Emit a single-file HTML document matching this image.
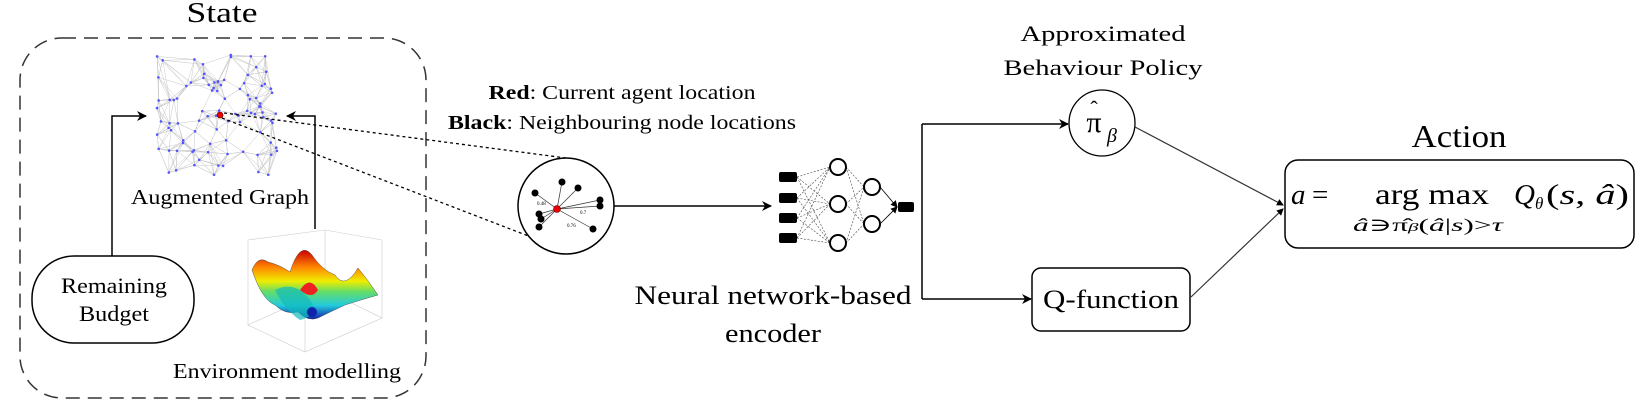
<!DOCTYPE html>
<html><head><meta charset="utf-8"><style>
html,body{margin:0;padding:0;background:#fff;}
svg{display:block;}
text{font-family:"Liberation Serif","DejaVu Serif",serif;}
</style></head><body>
<svg id="s" width="1641" height="400" viewBox="0 0 1641 400" xmlns="http://www.w3.org/2000/svg">
<defs>
<marker id="ah" markerWidth="10" markerHeight="10" refX="9" refY="5" orient="auto" markerUnits="userSpaceOnUse">
<path d="M0,0 L10,5 L0,10 L3,5 z" fill="#000"/></marker>
<marker id="ahs" markerWidth="7" markerHeight="7" refX="6" refY="3.5" orient="auto" markerUnits="userSpaceOnUse">
<path d="M0,0 L7,3.5 L0,7 z" fill="#000"/></marker>
<linearGradient id="surf" x1="0" y1="0" x2="0" y2="1">
<stop offset="0" stop-color="#c00"/><stop offset="0.25" stop-color="#f80"/><stop offset="0.45" stop-color="#ee0"/><stop offset="0.6" stop-color="#6d6"/><stop offset="0.8" stop-color="#2cd"/><stop offset="1" stop-color="#12a"/></linearGradient>
</defs>

<text x="222" y="22" font-size="28" text-anchor="middle" textLength="71" lengthAdjust="spacingAndGlyphs">State</text>
<rect x="20" y="38" width="406" height="360" rx="42" fill="none" stroke="#333" stroke-width="1.5" stroke-dasharray="14,8"/>
<g id="graph"></g>
<text x="220" y="204" font-size="21" text-anchor="middle" textLength="178" lengthAdjust="spacingAndGlyphs">Augmented Graph</text>

<rect x="32" y="256" width="162" height="87" rx="42" fill="none" stroke="#000" stroke-width="1.5"/>
<text x="114" y="293" font-size="22" text-anchor="middle" textLength="106" lengthAdjust="spacingAndGlyphs">Remaining</text>
<text x="114" y="321" font-size="22" text-anchor="middle" textLength="70" lengthAdjust="spacingAndGlyphs">Budget</text>
<polyline points="112,256 112,116 146,116" fill="none" stroke="#000" stroke-width="1.5" marker-end="url(#ah)"/>
<polyline points="315,229 315,116 287,116" fill="none" stroke="#000" stroke-width="1.5" marker-end="url(#ah)"/>

<g stroke="#ccc" stroke-width="0.6" fill="none">
<path d="M248,240 L248,325 L305,352 L382,318 L382,240 L325,230 Z"/>
<path d="M305,352 L305,270 M248,325 L325,290 L382,318 M325,230 L325,290"/>
</g>
<path d="M252,270 Q258,255 268,262 Q280,265 290,272 Q300,240 312,255 Q322,270 335,275 Q345,290 358,268 Q368,280 378,295 Q360,300 345,305 Q330,312 318,318 Q308,322 298,312 Q285,315 275,305 Q262,300 252,270 Z" fill="url(#surf)" stroke="#333" stroke-width="0.4"/>
<path d="M275,290 Q295,280 310,300 Q320,315 300,320 Q285,310 275,290Z" fill="#1bb" opacity="0.7"/>
<path d="M300,290 Q310,275 318,290 Q312,300 300,290Z" fill="#e22"/>
<circle cx="312" cy="312" r="5" fill="#12a"/>
<text x="287" y="378" font-size="21" text-anchor="middle" textLength="228" lengthAdjust="spacingAndGlyphs">Environment modelling</text>

<text x="622" y="99" font-size="20" text-anchor="middle" textLength="267" lengthAdjust="spacingAndGlyphs"><tspan font-weight="bold">Red</tspan>: Current agent location</text>
<text x="622" y="129" font-size="20" text-anchor="middle" textLength="348" lengthAdjust="spacingAndGlyphs"><tspan font-weight="bold">Black</tspan>: Neighbouring node locations</text>

<line x1="224" y1="113" x2="566" y2="158" stroke="#000" stroke-width="1.3" stroke-dasharray="3,3"/>
<line x1="222" y1="118" x2="531" y2="237" stroke="#000" stroke-width="1.3" stroke-dasharray="3,3"/>

<circle cx="566" cy="206" r="48" fill="#fff" stroke="#000" stroke-width="1.5"/>
<g stroke="#333" stroke-width="0.7">
<line x1="557" y1="209" x2="562" y2="182"/><line x1="557" y1="209" x2="578" y2="188"/>
<line x1="557" y1="209" x2="535" y2="193"/><line x1="557" y1="209" x2="600" y2="200"/>
<line x1="557" y1="209" x2="600" y2="206"/><line x1="557" y1="209" x2="539" y2="214"/>
<line x1="557" y1="209" x2="541" y2="219"/><line x1="557" y1="209" x2="539" y2="227"/>
<line x1="557" y1="209" x2="593" y2="229"/>
</g>
<g fill="#000">
<circle cx="562" cy="182" r="3.5"/><circle cx="578" cy="188" r="3.5"/><circle cx="535" cy="193" r="3.5"/>
<circle cx="600" cy="200" r="3.5"/><circle cx="600" cy="206" r="3.5"/><circle cx="539" cy="214" r="3.5"/>
<circle cx="541" cy="219" r="3.5"/><circle cx="539" cy="227" r="3.5"/><circle cx="593" cy="229" r="3.5"/>
</g>
<circle cx="557" cy="209" r="3.5" fill="#e00" stroke="#600" stroke-width="0.6"/>
<text x="537" y="205" font-size="5">0.48</text><text x="580" y="214" font-size="5">0.7</text><text x="567" y="227" font-size="5">0.76</text>
<line x1="614" y1="206" x2="771" y2="206" stroke="#000" stroke-width="1.5" marker-end="url(#ah)"/>

<g id="nn"></g>
<text x="773" y="304" font-size="26" text-anchor="middle" textLength="277" lengthAdjust="spacingAndGlyphs">Neural network-based</text>
<text x="773" y="342" font-size="26" text-anchor="middle" textLength="96" lengthAdjust="spacingAndGlyphs">encoder</text>

<line x1="922" y1="124" x2="922" y2="299" stroke="#000" stroke-width="1.5"/>
<line x1="922" y1="124" x2="1068" y2="124" stroke="#000" stroke-width="1.5" marker-end="url(#ah)"/>
<line x1="922" y1="299" x2="1031" y2="299" stroke="#000" stroke-width="1.5" marker-end="url(#ah)"/>

<text x="1103" y="41" font-size="22" text-anchor="middle" textLength="165" lengthAdjust="spacingAndGlyphs">Approximated</text>
<text x="1103" y="75" font-size="22" text-anchor="middle" textLength="199" lengthAdjust="spacingAndGlyphs">Behaviour Policy</text>
<circle cx="1102" cy="123" r="33" fill="none" stroke="#000" stroke-width="1.3"/>
<text x="1094" y="132" font-size="30" text-anchor="middle">π</text>
<text x="1094" y="116" font-size="22" text-anchor="middle">ˆ</text>
<text x="1112" y="142" font-size="20" font-style="italic" text-anchor="middle">β</text>

<rect x="1032" y="268" width="158" height="63" rx="9" fill="none" stroke="#000" stroke-width="1.5"/>
<text x="1111" y="308" font-size="26" text-anchor="middle" textLength="136" lengthAdjust="spacingAndGlyphs">Q-function</text>

<line x1="1135" y1="127" x2="1283" y2="205" stroke="#333" stroke-width="1.2" marker-end="url(#ahs)"/>
<line x1="1191" y1="297" x2="1283" y2="209" stroke="#333" stroke-width="1.2" marker-end="url(#ahs)"/>

<text x="1459" y="147" font-size="32" text-anchor="middle" textLength="95" lengthAdjust="spacingAndGlyphs">Action</text>
<rect x="1285" y="160" width="349" height="88" rx="13" fill="none" stroke="#000" stroke-width="1.5"/>
<text x="1291" y="204" font-size="29" font-style="italic">a</text>
<text x="1312" y="204" font-size="29">=</text>
<text x="1432" y="204" font-size="30" text-anchor="middle" textLength="114" lengthAdjust="spacingAndGlyphs">arg max</text>
<text x="1514" y="204" font-size="29" font-style="italic">Q</text>
<text x="1535" y="209" font-size="17" font-style="italic">θ</text>
<text x="1546" y="204" font-size="29" textLength="83" lengthAdjust="spacingAndGlyphs">(<tspan font-style="italic">s</tspan>, <tspan font-style="italic">â</tspan>)</text>
<text x="1428" y="231" font-size="18" text-anchor="middle" textLength="150" lengthAdjust="spacingAndGlyphs"><tspan font-style="italic">â</tspan>∋π̂<tspan font-size="12" font-style="italic">β</tspan>(<tspan font-style="italic">â</tspan>|<tspan font-style="italic">s</tspan>)&gt;<tspan font-style="italic">τ</tspan></text>
</svg>
<script>
(function(){
var NS="http://www.w3.org/2000/svg";
function el(t,a,p){var e=document.createElementNS(NS,t);for(var k in a)e.setAttribute(k,a[k]);p.appendChild(e);return e;}
var g=document.getElementById('graph');
var seed=11;function r(){seed=(seed*16807)%2147483647;return seed/2147483647;}
var pts=[];
for(var i=0;i<95;i++){pts.push([157+r()*120,54+r()*121]);}
for(i=0;i<pts.length;i++){
 var d=[];for(var j=0;j<pts.length;j++){if(i!=j){var dx=pts[i][0]-pts[j][0],dy=pts[i][1]-pts[j][1];d.push([dx*dx+dy*dy,j]);}}
 d.sort(function(a,b){return a[0]-b[0]});
 for(var k=0;k<7;k++){var p=pts[d[k][1]];el('line',{x1:pts[i][0],y1:pts[i][1],x2:p[0],y2:p[1],stroke:'#c8c8c8','stroke-width':0.5},g);}
}
for(i=0;i<pts.length;i++)el('circle',{cx:pts[i][0],cy:pts[i][1],r:1.3,fill:'#55f'},g);
el('circle',{cx:220,cy:115,r:3,fill:'#e00',stroke:'#600','stroke-width':0.6},g);
var n=document.getElementById('nn');
var inp=[177,198,218,238],h1=[167,204,243],h2=[187,224];
inp.forEach(function(y){h1.forEach(function(y2){el('line',{x1:797,y1:y,x2:830,y2:y2,stroke:'#444','stroke-width':0.6,'stroke-dasharray':'2,1.5'},n);});});
h1.forEach(function(y){h2.forEach(function(y2){el('line',{x1:846,y1:y,x2:864,y2:y2,stroke:'#444','stroke-width':0.6,'stroke-dasharray':'2,1.5'},n);});});
h2.forEach(function(y){el('line',{x1:880,y1:y,x2:897,y2:207,stroke:'#000','stroke-width':0.8,'marker-end':'url(#ahs)'},n);});
inp.forEach(function(y){el('rect',{x:779,y:y-5,width:18,height:10,rx:2,fill:'#000'},n);});
h1.forEach(function(y){el('circle',{cx:838,cy:y,r:8,fill:'#fff',stroke:'#000','stroke-width':2},n);});
h2.forEach(function(y){el('circle',{cx:872,cy:y,r:8,fill:'#fff',stroke:'#000','stroke-width':2},n);});
el('rect',{x:898,y:202,width:16,height:10,rx:2,fill:'#000'},n);
})();
</script>
</body></html>
